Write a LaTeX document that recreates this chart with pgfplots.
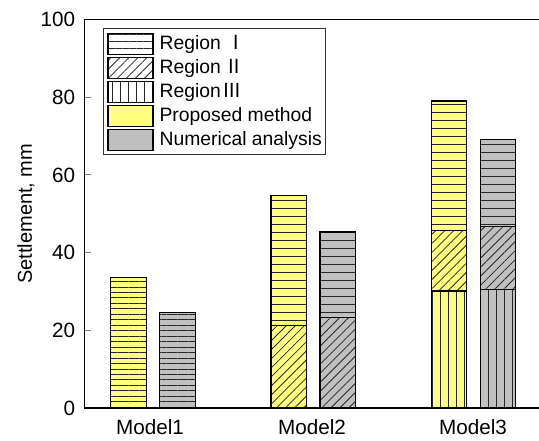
\documentclass[border=0pt]{standalone}
\usepackage{pgfplots}
\pgfplotsset{compat=1.18}
\usetikzlibrary{patterns.meta}
\usepackage{fontspec}
\setmainfont{Liberation Sans}
\newfontfamily\cjk{Noto Sans CJK SC}
\definecolor{pyel}{RGB}{255,255,128}
\definecolor{ngry}{RGB}{192,192,192}
\tikzset{
  hH/.style={postaction={pattern={Lines[angle=0,distance=#1,line width=0.65pt]}, pattern color=black!85}},
  hD/.style={postaction={pattern={Lines[angle=45,distance=4.8pt,line width=0.6pt]}, pattern color=black!85}},
  hV/.style={postaction={pattern={Lines[angle=90,distance=6pt,line width=0.6pt]}, pattern color=black!85}},
}
\pgfplotsset{
  swatch/.style={legend image code/.code={\draw[##1] (0pt,-7.875pt) rectangle (33.75pt,7.875pt);}},
}
\begin{document}
\begin{tikzpicture}
\useasboundingbox (0,0) rectangle (404.25pt,330pt);
\begin{axis}[
  at={(63.375pt,24pt)}, anchor=south west,
  scale only axis, width=345.375pt, height=291.375pt,
  xmin=0.5725, xmax=3.446, ymin=0, ymax=100,
  axis x line*=box, axis y line*=left,
  axis line style={line width=0.9pt},
  font=\fontsize{15}{18}\selectfont,
  tick label style={font=\fontsize{15.5}{18}\selectfont},
  yticklabel style={xshift=-3.5pt},
  /pgf/number format/assume math mode=true,
  ytick={0,20,40,60,80,100},
  tick align=inside, major tick length=5pt,
  ytick style={line width=0.8pt},
  xtick={0.981,1.992,2.997},
  xticklabels={Model1,Model2,Model3},
  major x tick style={draw=none},
  ylabel={Settlement, mm},
  ylabel style={at={(axis description cs:-0.127,0.5)}, anchor=center},
  ybar, bar shift=0pt, bar width=0.2215,
  legend style={at={(axis description cs:0.0402,0.978)}, anchor=north west,
    draw=black!80, line width=0.7pt, inner xsep=3pt, inner ysep=3pt,
    nodes={inner sep=0pt}, column sep=4.5pt, row sep=1.5pt,
    font=\fontsize{14.5}{17}\selectfont},
  legend cell align=left,
]
% Proposed method (yellow): cumulative tops, drawn tallest first
\addplot[forget plot, fill=pyel, draw=black, line width=0.9pt, hH=4.1pt] coordinates {(0.847,33.5)};
\addplot[forget plot, fill=pyel, draw=black, line width=0.9pt, hH=6pt] coordinates {(1.847,54.6) (2.847,79.0)};
\addplot[forget plot, fill=pyel, draw=black, line width=0.9pt, hD] coordinates {(1.847,21.3) (2.847,45.6)};
\addplot[forget plot, fill=pyel, draw=black, line width=0.9pt, hV] coordinates {(2.847,30.1)};
% Numerical analysis (grey)
\addplot[forget plot, fill=ngry, draw=black, line width=0.9pt, hH=4.1pt] coordinates {(1.153,24.5)};
\addplot[forget plot, fill=ngry, draw=black, line width=0.9pt, hH=6pt] coordinates {(2.153,45.3) (3.153,69.2)};
\addplot[forget plot, fill=ngry, draw=black, line width=0.9pt, hD] coordinates {(2.153,23.3) (3.153,46.8)};
\addplot[forget plot, fill=ngry, draw=black, line width=0.9pt, hV] coordinates {(3.153,30.4)};
% legend
\addlegendimage{swatch, fill=white, draw=black, line width=0.8pt, hH=5.25pt}
\addlegendentry{Region\hspace{4pt}{\cjk Ⅰ}}
\addlegendimage{swatch, fill=white, draw=black, line width=0.8pt, hD}
\addlegendentry{Region\hspace{3pt}{\cjk Ⅱ}}
\addlegendimage{swatch, fill=white, draw=black, line width=0.8pt, hV}
\addlegendentry{Region\hspace{1.5pt}{\cjk Ⅲ}}
\addlegendimage{swatch, fill=pyel, draw=black, line width=0.8pt}
\addlegendentry{Proposed method}
\addlegendimage{swatch, fill=ngry, draw=black, line width=0.8pt}
\addlegendentry{Numerical analysis}
\end{axis}
\end{tikzpicture}
\end{document}
